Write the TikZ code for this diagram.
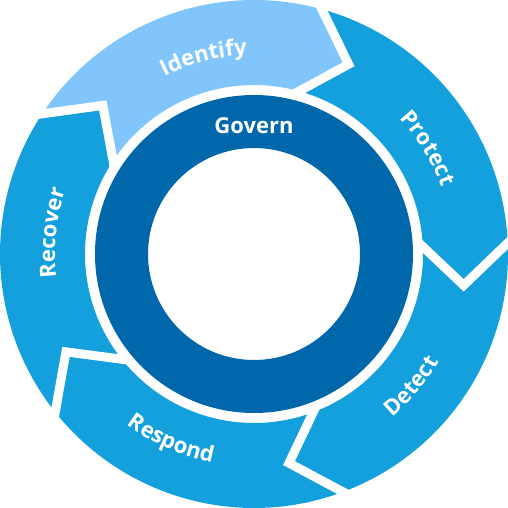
\documentclass[tikz,border=0pt]{standalone}
\usepackage{fontspec}
\setsansfont{Open Sans}
\usetikzlibrary{decorations.text,calc}
\definecolor{idc}{RGB}{128,197,251}
\definecolor{segc}{RGB}{19,160,220}
\definecolor{govc}{RGB}{1,103,171}
\newcommand{\lblfont}{\color{white}\sffamily\bfseries\fontsize{22}{24}\selectfont}
\begin{document}
\begin{tikzpicture}[x=1pt,y=1pt,
  gapline/.style={white, line width=9pt, line join=miter},
  lbl/.style={font=\lblfont, text=white}]
\useasboundingbox (-254,-254) rectangle (254,254);
\def\Ro{254}\def\Ri{169}\def\Rm{212}\def\dA{11}
% segments
\foreach \k/\col in {0/idc,1/segc,2/segc,3/segc,4/segc}{
  \pgfmathsetmacro{\hA}{74.5-72*\k}
  \pgfmathsetmacro{\tA}{\hA+72}
  \pgfmathsetmacro{\hT}{\hA-\dA}
  \pgfmathsetmacro{\tT}{\tA-\dA}
  \fill[\col] (\tA:\Ro) arc[start angle=\tA, end angle=\hA, radius=\Ro]
     -- (\hT:\Rm) -- (\hA:\Ri) arc[start angle=\hA, end angle=\tA, radius=\Ri]
     -- (\tT:\Rm) -- cycle;
}
% white separators
\foreach \k in {0,1,2,3,4}{
  \pgfmathsetmacro{\hA}{74.5-72*\k}
  \pgfmathsetmacro{\hT}{\hA-\dA}
  \coordinate (tip\k) at (\hT:\Rm);
  \coordinate (out\k) at (\hA:\Ro);
  \coordinate (in\k) at (\hA:\Ri);
  \draw[gapline] ($(tip\k)!1.2!(out\k)$) -- (tip\k) -- ($(tip\k)!1.15!(in\k)$);
}
% govern ring
\fill[govc, even odd rule] (0,0) circle[radius=159] (0,0) circle[radius=106];
\node[lbl] (govern) at (0,128) {Govern};
% labels along arcs (tops outward: clockwise paths)
\path[decorate, decoration={text along path, text align=center,
  text={|\lblfont|Identify}}]
  (144.4:199) arc[start angle=144.4, end angle=64.4, radius=199];
\path[decorate, decoration={text along path, text align=center,
  text={|\lblfont|Protect}}]
  (71.3:199) arc[start angle=71.3, end angle=-8.7, radius=199];
\path[decorate, decoration={text along path, text align=center,
  text={|\lblfont|Recover}}]
  (214:199) arc[start angle=214, end angle=134, radius=199];
% tops inward: counterclockwise paths
\path[decorate, decoration={text along path, text align=center,
  text={|\lblfont|Detect}}]
  (-79.9:214) arc[start angle=-79.9, end angle=0.1, radius=214];
\path[decorate, decoration={text along path, text align=center,
  text={|\lblfont|Respond}}]
  (-154:213) arc[start angle=-154, end angle=-74, radius=213];
\end{tikzpicture}
\end{document}
